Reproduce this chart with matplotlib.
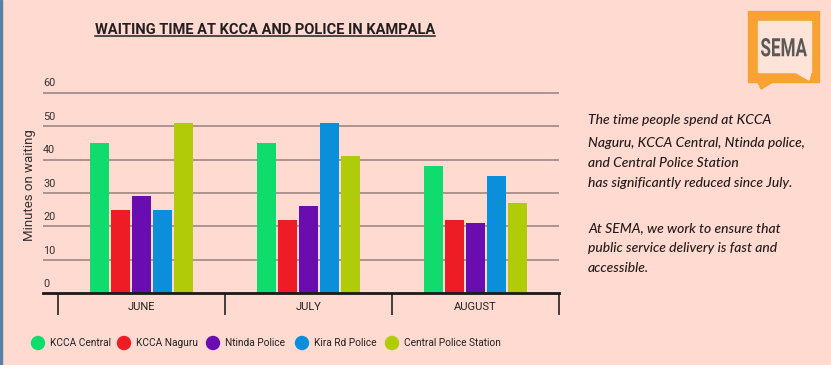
"""
Waiting time at KCCA and police stations in Kampala, grouped bars per month.
"""

import matplotlib
matplotlib.use("Agg")
import matplotlib.pyplot as plt
import numpy as np
from matplotlib.font_manager import FontProperties
from matplotlib.lines import Line2D
from matplotlib.patches import Rectangle, Polygon, Ellipse, PathPatch
from matplotlib.textpath import TextPath
from matplotlib.transforms import Affine2D

# data
months = ["JUNE", "JULY", "AUGUST"]
stations = ["KCCA Central", "KCCA Naguru", "Ntinda Police", "Kira Rd Police", "Central Police Station"]
kcca_central = [45, 45, 38]
kcca_naguru = [25, 22, 22]
ntinda_police = [29, 26, 21]
kira_rd_police = [25, 51, 35]
central_police = [51, 41, 27]
y_ticks = [0, 10, 20, 30, 40, 50, 60]

colors = ["#10DC6E", "#EE1C25", "#6A0DB0", "#0B8FDB", "#B0CB08"]
bg = "#FEDAD0"
text_dark = "#231A1A"


def main():
    plt.rcParams["font.family"] = ["Roboto", "DejaVu Sans"]
    fig = plt.figure(figsize=(8.31, 3.65), dpi=100, facecolor=bg)
    W, H = 831, 365

    def fx(px):
        return px / W

    def fy(py):
        return (H - py) / H

    # axes: left of gridlines at 43px, right at 559px, baseline at 293px
    ax = fig.add_axes([fx(43), fy(293.3), fx(559) - fx(43), fy(89.3) - fy(293.3)])
    ax.set_facecolor(bg)
    ax.set_xlim(-0.59, 2.5)
    ax.set_ylim(0, 61)

    series = [kcca_central, kcca_naguru, ntinda_police, kira_rd_police, central_police]
    x = np.arange(len(months))
    step = 0.1257
    width = 0.1168
    for i, (vals, c) in enumerate(zip(series, colors)):
        ax.bar(x + (i - 2) * step, vals, width=width, color=c, zorder=3)

    # gridlines + labels sitting above them
    for v in y_ticks[1:]:
        ax.axhline(v, color="#A68E88", lw=1.3, zorder=1)
    for v in y_ticks:
        ax.annotate(str(v), xy=(0, v), xycoords=ax.get_yaxis_transform(),
                    xytext=(0, 3), textcoords="offset points",
                    ha="left", va="bottom", fontsize=7.8, color="#333333")

    for s in ["top", "right", "left"]:
        ax.spines[s].set_visible(False)
    ax.spines["bottom"].set_linewidth(2)
    ax.spines["bottom"].set_color("#1a1a1a")
    ax.spines["bottom"].set_zorder(4)
    ax.set_yticks([])
    ax.set_xticks(x)
    ax.set_xticklabels(months, fontsize=8, color="#222222")
    ax.tick_params(axis="x", which="major", length=0, pad=6)
    ax.set_xticks([-0.5, 0.5, 1.5, 2.5], minor=True)
    ax.tick_params(axis="x", which="minor", length=16, width=1.2, color="#222222", direction="out")

    fig.text(fx(30), fy(185), "Minutes on waiting", rotation=90, ha="center", va="center",
             fontsize=9.5, color="#333333")

    # title with underline
    title = fig.text(fx(265), fy(30), "WAITING TIME AT KCCA AND POLICE IN KAMPALA",
                     ha="center", va="center", fontsize=10.5, fontweight="bold", color="#231F20")
    fig.canvas.draw()
    bb = title.get_window_extent()
    fig.add_artist(Line2D([bb.x0 / W, bb.x1 / W], [fy(36), fy(36)], lw=1.1,
                          color="#231F20", transform=fig.transFigure))

    # legend
    legend_x = [38, 124, 213, 302, 392]
    for name, c, lx in zip(stations, colors, legend_x):
        fig.add_artist(Ellipse((fx(lx), fy(343)), width=13 / W, height=13 / H, color=c,
                               transform=fig.transFigure))
        fig.text(fx(lx + 12), fy(343), name, ha="left", va="center",
                 fontsize=7.3, color="#222222")

    # side note
    note = [
        (120, "The time people spend at KCCA"),
        (143, "Naguru, KCCA Central, Ntinda police,"),
        (163, "and Central Police Station"),
        (183, "has significantly reduced since July."),
        (228, "At SEMA, we work to ensure that"),
        (248, "public service delivery is fast and"),
        (268, "accessible."),
    ]
    for py, line in note:
        fig.text(fx(588), fy(py), line, ha="left", va="center", fontsize=10,
                 style="italic", fontweight="medium", color=text_dark,
                 family=["Lato", "DejaVu Sans"])

    # SEMA logo: orange speech bubble
    orange = "#F7A233"
    fig.add_artist(Rectangle((fx(748), fy(82)), fx(819) - fx(748), fy(11) - fy(82),
                             color=orange, transform=fig.transFigure))
    fig.add_artist(Polygon([(fx(758), fy(82)), (fx(773), fy(82)), (fx(761), fy(89))],
                           color=orange, transform=fig.transFigure))
    fig.add_artist(Rectangle((fx(758), fy(72)), fx(811) - fx(758), fy(21) - fy(72),
                             color="#FEE3D8", transform=fig.transFigure))
    fig.add_artist(Polygon([(fx(795), fy(72)), (fx(811), fy(72)), (fx(809), fy(80))],
                           color="#FEE3D8", transform=fig.transFigure))

    # condensed "SEMA" word: squeeze a text path into the box the logo uses
    tp = TextPath((0, 0), "SEMA", size=20, prop=FontProperties(family="Roboto", weight="bold"))
    ext = tp.get_extents()
    box_w, box_h = 46, 18.5
    x0, y_top = 761, 38
    sx, sy = box_w / ext.width, box_h / ext.height
    tr = (Affine2D().translate(-ext.x0, -ext.y0).scale(sx, sy)
          .translate(x0, H - y_top - box_h).scale(1 / W, 1 / H) + fig.transFigure)
    fig.add_artist(PathPatch(tp, transform=tr, color="#5A5858", lw=0))

    # thin blue frame line on the left edge
    fig.add_artist(Rectangle((0, 0), 2 / W, 1, color="#5A80A8", transform=fig.transFigure))

    fig.savefig("out.png", dpi=100, facecolor=bg)


if __name__ == "__main__":
    main()
